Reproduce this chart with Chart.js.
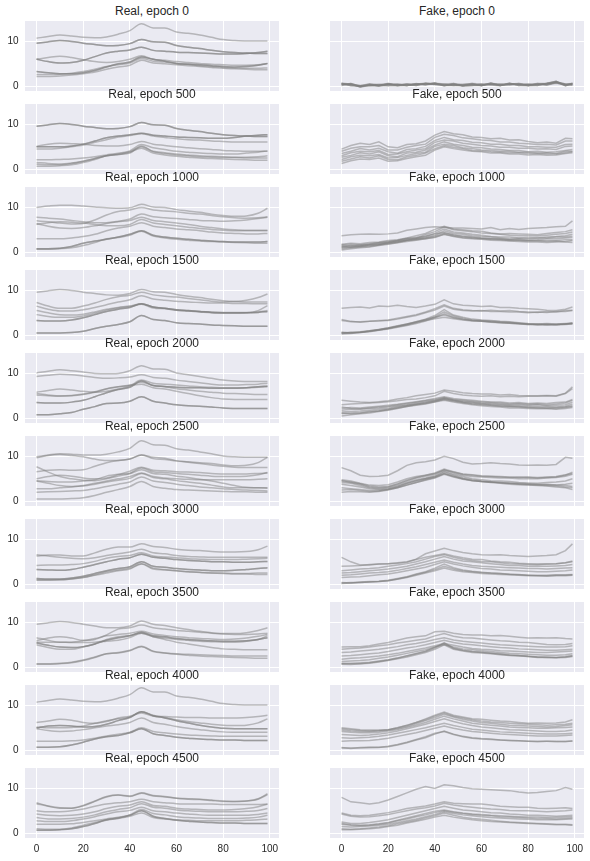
<!DOCTYPE html>
<html><head><meta charset="utf-8">
<script src="https://cdn.jsdelivr.net/npm/chart.js@4.4.0/dist/chart.umd.min.js"></script>
<style>
body{margin:0;background:#fff;width:590px;height:861px;position:relative;overflow:hidden;font-family:"Liberation Sans",Arial,sans-serif}
.t{position:absolute;width:254px;text-align:center;font-size:12px;line-height:14px;color:#262626;white-space:nowrap}
</style></head><body>
<script>
const epochs = [0,500,1000,1500,2000,2500,3000,3500,4000,4500];
const realX = [0,5,10,15,20,25,30,35,40,45,50,55,60,65,70,75,80,85,90,95,99];
const fakeX = [0,4,8,12,16,20,24,28,32,36,40,44,48,52,56,60,64,68,72,76,80,84,88,92,96,99];
const xTicks = [0,20,40,60,80,100];
const yTicks = [0,10];

// ---- Real samples (values at realX) ----
const real0 = [
 [10.7,11.1,11.4,11.2,10.9,10.8,11.0,11.6,12.4,13.9,13.0,13.0,12.1,11.8,11.4,10.9,10.4,10.2,10.1,10.1,10.1],
 [9.6,9.9,10.2,10.0,9.6,9.3,9.0,9.1,9.5,10.4,9.9,9.8,9.1,8.7,8.4,8.0,7.7,7.5,7.4,7.3,7.3],
 [9.6,9.9,10.2,10.0,9.6,9.3,9.0,9.1,9.5,10.4,9.9,9.8,9.1,8.7,8.4,8.0,7.7,7.5,7.4,7.3,7.3],
 [6.0,5.5,5.2,5.3,5.8,6.6,7.4,7.8,8.1,8.7,8.0,7.8,7.6,7.5,7.4,7.3,7.2,7.2,7.3,7.5,7.8],
 [6.0,5.5,5.2,5.3,5.8,6.6,7.4,7.8,8.1,8.7,8.0,7.8,7.6,7.5,7.4,7.3,7.2,7.2,7.3,7.5,7.8],
 [6.0,6.4,6.7,6.4,5.9,5.5,5.3,5.5,6.0,6.8,6.0,5.8,5.5,5.3,5.1,4.9,4.8,4.7,4.7,4.8,5.0],
 [3.3,3.0,2.8,2.8,3.0,3.5,4.3,5.0,5.4,6.5,6.0,5.6,5.1,4.9,4.8,4.6,4.4,4.3,4.4,4.7,5.1],
 [3.3,3.0,2.8,2.8,3.0,3.5,4.3,5.0,5.4,6.5,6.0,5.6,5.1,4.9,4.8,4.6,4.4,4.3,4.4,4.7,5.1],
 [2.2,2.2,2.3,2.5,2.8,3.2,3.8,4.3,4.7,5.8,5.2,5.0,4.8,4.6,4.4,4.2,4.0,3.9,3.8,3.7,3.7],
 [2.6,2.6,2.7,2.9,3.3,3.8,4.4,4.8,5.2,6.2,5.6,5.4,5.1,4.9,4.6,4.4,4.2,4.1,4.0,4.0,4.1]
];
const real1 = [
 [9.6,9.9,10.2,10.0,9.6,9.3,9.0,9.1,9.5,10.4,9.9,9.8,9.1,8.7,8.4,8.0,7.7,7.5,7.4,7.3,7.3],
 [9.6,9.9,10.2,10.0,9.6,9.3,9.0,9.1,9.5,10.4,9.9,9.8,9.1,8.7,8.4,8.0,7.7,7.5,7.4,7.3,7.3],
 [5.0,5.0,5.0,5.2,5.6,6.3,7.0,7.4,7.7,8.0,7.6,7.4,7.2,7.1,7.0,6.9,6.9,7.1,7.4,7.6,7.7],
 [5.0,5.0,5.0,5.2,5.6,6.3,7.0,7.4,7.7,8.0,7.6,7.4,7.2,7.1,7.0,6.9,6.9,7.1,7.4,7.6,7.7],
 [4.5,4.5,4.7,5.0,5.4,6.0,6.6,7.2,7.5,7.9,7.4,7.1,6.8,6.6,6.5,6.3,6.2,6.1,6.1,6.1,6.1],
 [5.1,5.6,5.8,5.7,5.6,5.3,5.2,5.2,5.5,6.2,5.6,5.3,5.0,4.8,4.6,4.4,4.2,4.1,4.0,4.0,4.0],
 [2.1,2.1,2.2,2.3,2.5,2.8,3.2,3.6,4.1,5.5,4.8,4.4,4.0,3.8,3.6,3.5,3.4,3.4,3.6,3.8,4.1],
 [1.5,1.3,1.2,1.4,1.8,2.4,3.0,3.3,3.6,5.2,4.0,3.7,3.4,3.2,3.0,2.9,2.8,2.7,2.7,2.8,3.0],
 [0.7,0.7,0.8,1.0,1.5,2.2,3.0,3.3,3.8,4.7,3.6,3.2,2.9,2.7,2.5,2.4,2.3,2.2,2.1,2.0,2.0],
 [1.1,1.0,1.0,1.3,1.8,2.4,3.0,3.4,3.9,5.0,3.9,3.5,3.2,3.0,2.8,2.7,2.6,2.6,2.5,2.5,2.5]
];
const real2 = [
 [10.0,10.3,10.5,10.5,10.3,10.1,9.9,9.8,9.9,10.7,10.1,10.0,9.5,9.2,8.9,8.5,8.2,8.0,8.1,8.7,9.8],
 [7.0,6.8,6.5,6.3,6.4,7.2,8.3,9.1,9.4,10.0,9.4,9.2,9.0,8.7,8.5,8.2,7.9,7.7,7.6,7.7,7.9],
 [7.8,7.6,7.4,7.1,6.8,6.6,6.6,6.9,7.4,8.5,7.9,7.7,7.5,7.3,7.1,7.0,6.9,7.0,7.2,7.5,7.8],
 [6.4,5.8,5.4,5.3,5.5,5.9,6.4,6.8,7.1,7.8,7.1,6.8,6.5,6.2,5.8,5.5,5.2,5.0,4.9,4.9,4.9],
 [6.2,6.6,6.8,6.7,6.5,6.2,5.9,5.9,6.2,7.3,6.5,6.2,5.9,5.6,5.3,5.1,4.9,4.8,4.8,4.8,4.8],
 [3.0,3.0,3.0,3.2,3.5,4.0,4.8,5.4,5.8,6.6,5.8,5.5,5.2,5.0,4.8,4.5,4.3,4.2,4.1,4.1,4.2],
 [0.7,0.7,0.8,1.0,1.5,2.2,3.0,3.3,3.8,4.7,3.6,3.2,2.9,2.7,2.5,2.4,2.3,2.2,2.1,2.0,2.0],
 [0.8,0.8,0.9,1.3,2.0,2.5,2.9,3.4,4.0,4.8,3.8,3.4,3.1,2.9,2.7,2.5,2.4,2.3,2.3,2.3,2.4],
 [0.8,0.8,0.9,1.3,2.0,2.5,2.9,3.4,4.0,4.8,3.8,3.4,3.1,2.9,2.7,2.5,2.4,2.3,2.3,2.3,2.4]
];
const real3 = [
 [9.6,9.9,10.2,10.0,9.6,9.3,9.0,8.9,9.3,10.2,9.7,9.6,9.1,8.7,8.4,8.0,7.7,7.5,7.4,7.4,7.4],
 [7.3,6.5,6.0,6.0,6.5,7.2,8.0,8.6,8.9,9.6,9.0,8.7,8.5,8.2,7.9,7.6,7.4,7.5,7.8,8.4,9.2],
 [6.5,5.8,5.4,5.4,5.7,6.2,6.8,7.4,7.9,8.8,8.1,7.8,7.6,7.4,7.3,7.2,7.2,7.1,7.1,7.0,7.0],
 [5.5,5.0,4.6,4.5,4.7,5.2,5.8,6.2,6.5,7.0,6.3,6.0,5.6,5.4,5.2,5.0,4.9,4.9,5.0,5.5,6.6],
 [4.6,4.2,4.0,4.0,4.3,4.9,5.6,6.1,6.4,6.9,6.1,5.9,5.6,5.4,5.3,5.2,5.1,5.1,5.1,5.2,5.5],
 [3.3,3.2,3.2,3.4,3.9,4.6,5.3,5.8,6.2,7.0,6.3,6.0,5.7,5.5,5.3,5.1,5.0,5.0,5.0,5.1,5.3],
 [3.3,3.2,3.2,3.4,3.9,4.6,5.3,5.8,6.2,7.0,6.3,6.0,5.7,5.5,5.3,5.1,5.0,5.0,5.0,5.1,5.3],
 [0.5,0.5,0.5,0.6,0.9,1.5,2.0,2.4,3.0,4.4,3.5,3.3,2.8,2.6,2.5,2.3,2.2,2.1,2.0,2.0,2.0],
 [0.5,0.5,0.5,0.6,0.9,1.5,2.0,2.4,3.0,4.4,3.5,3.3,2.8,2.6,2.5,2.3,2.2,2.1,2.0,2.0,2.0]
];
const real4 = [
 [10.1,10.5,10.8,10.6,10.3,10.0,9.9,10.0,10.6,11.7,11.0,10.9,10.1,9.7,9.3,8.9,8.5,8.3,8.2,8.2,8.2],
 [9.3,9.6,9.8,9.7,9.4,9.1,8.9,9.0,9.2,9.7,9.1,8.9,8.5,8.2,7.9,7.6,7.4,7.4,7.5,7.6,7.8],
 [5.8,6.2,6.5,6.3,6.0,5.8,6.0,6.5,7.2,8.5,7.8,7.6,7.4,7.2,7.0,6.9,6.8,6.8,6.8,6.9,7.0],
 [5.2,5.0,4.9,5.0,5.3,5.8,6.5,7.0,7.4,8.0,7.3,7.0,6.6,6.3,6.0,5.8,5.6,5.5,5.4,5.3,5.3],
 [5.5,5.2,5.0,5.1,5.4,5.9,6.6,7.0,7.3,7.6,6.8,6.5,6.0,5.5,5.0,4.6,4.3,4.2,4.2,4.2,4.2],
 [3.5,3.4,3.4,3.6,4.0,4.8,5.7,6.4,6.9,8.3,7.3,7.1,6.9,6.8,6.8,6.7,6.7,6.7,6.8,7.0,7.2],
 [3.5,3.4,3.4,3.6,4.0,4.8,5.7,6.4,6.9,8.3,7.3,7.1,6.9,6.8,6.8,6.7,6.7,6.7,6.8,7.0,7.2],
 [0.8,0.8,1.0,1.3,2.0,2.6,3.3,3.4,3.8,4.8,3.8,3.4,3.0,2.8,2.7,2.5,2.3,2.2,2.2,2.2,2.2],
 [0.8,0.8,1.0,1.3,2.0,2.6,3.3,3.4,3.8,4.8,3.8,3.4,3.0,2.8,2.7,2.5,2.3,2.2,2.2,2.2,2.2]
];
const real5 = [
 [9.9,10.3,10.6,10.5,10.3,10.3,10.5,11.0,11.8,13.5,12.6,12.5,11.7,11.4,11.0,10.6,10.1,9.9,9.8,9.8,9.8],
 [9.7,10.2,10.4,10.2,9.9,9.4,9.1,9.1,9.4,10.3,9.8,9.6,9.0,8.7,8.4,8.1,7.8,7.6,7.5,7.5,7.5],
 [6.6,6.9,7.0,6.9,7.0,7.8,8.6,9.1,9.4,10.3,9.5,9.3,9.0,8.8,8.6,8.4,8.1,7.9,8.0,8.6,9.8],
 [7.7,6.5,5.5,5.0,4.7,4.6,5.0,5.6,6.2,7.4,6.6,6.4,6.2,6.0,5.8,5.6,5.5,5.5,5.6,5.9,6.4],
 [5.0,5.5,5.8,5.6,5.2,5.0,5.2,5.9,6.7,7.6,6.9,6.8,6.6,6.5,6.4,6.2,6.1,6.1,6.1,6.2,6.3],
 [4.5,4.0,3.5,3.3,3.4,3.8,4.3,4.7,5.1,6.2,5.3,5.0,4.6,4.3,4.0,3.6,3.2,3.0,3.0,3.0,3.0],
 [4.6,4.4,4.3,4.3,4.5,4.8,5.6,6.0,6.2,7.0,6.2,6.0,5.6,5.3,4.9,4.5,4.0,3.5,3.1,3.0,2.9],
 [2.8,2.8,3.0,3.2,3.5,4.0,4.5,5.0,5.5,6.3,5.5,5.2,5.0,4.9,4.8,4.8,4.8,4.8,4.8,4.9,5.0],
 [2.0,2.1,2.2,2.3,2.4,2.8,3.3,3.8,4.3,5.4,4.5,4.2,3.8,3.5,3.2,3.0,2.8,2.6,2.5,2.4,2.3],
 [0.5,0.5,0.5,0.6,0.8,1.3,2.0,2.6,3.3,4.4,3.3,2.9,2.6,2.5,2.4,2.3,2.2,2.1,2.1,2.0,2.0]
];
const real6 = [
 [6.3,6.5,6.5,6.3,6.3,7.0,7.8,8.3,8.3,9.0,8.4,8.2,7.8,7.6,7.5,7.3,7.2,7.2,7.3,7.7,8.5],
 [6.6,6.3,6.0,5.8,5.7,5.9,6.4,6.8,7.2,7.8,7.0,6.8,6.4,6.2,6.1,6.0,6.0,6.0,6.0,6.0,6.0],
 [4.2,4.3,4.3,4.4,4.6,5.1,5.8,6.2,6.4,7.0,6.3,6.1,5.9,5.7,5.6,5.5,5.5,5.5,5.6,5.7,5.8],
 [3.3,3.2,3.1,3.3,3.8,4.4,5.0,5.6,5.9,6.7,6.0,5.8,5.5,5.3,5.2,5.0,5.0,4.9,4.9,5.0,5.1],
 [3.3,3.2,3.1,3.3,3.8,4.4,5.0,5.6,5.9,6.7,6.0,5.8,5.5,5.3,5.2,5.0,5.0,4.9,4.9,5.0,5.1],
 [1.3,1.2,1.2,1.4,1.8,2.4,3.0,3.5,3.9,5.0,4.0,3.8,3.5,3.3,3.2,3.0,3.0,3.1,3.3,3.5,3.7],
 [1.3,1.2,1.2,1.4,1.8,2.4,3.0,3.5,3.9,5.0,4.0,3.8,3.5,3.3,3.2,3.0,3.0,3.1,3.3,3.5,3.7],
 [1.0,1.0,1.0,1.2,1.5,2.0,2.5,3.0,3.4,4.5,3.4,3.2,3.0,2.8,2.7,2.5,2.5,2.4,2.4,2.5,2.5],
 [0.9,0.9,1.0,1.2,1.5,2.1,2.8,3.2,3.6,4.6,3.6,3.3,3.0,2.8,2.6,2.5,2.4,2.3,2.3,2.2,2.2]
];
const real7 = [
 [9.6,9.9,10.2,10.0,9.6,9.2,8.8,8.8,9.2,10.3,9.6,9.3,8.8,8.4,8.0,7.7,7.4,7.3,7.3,7.4,7.6],
 [5.9,6.5,6.8,6.5,6.0,6.2,7.2,8.5,8.8,9.4,8.8,8.5,8.2,8.0,7.8,7.6,7.5,7.5,7.7,8.2,8.8],
 [6.6,6.0,5.6,5.6,5.9,6.4,7.0,7.3,7.6,8.0,7.4,7.1,6.8,6.6,6.4,6.3,6.2,6.3,6.5,6.9,7.3],
 [5.4,4.9,4.5,4.4,4.6,5.2,6.0,6.6,7.0,7.8,7.0,6.8,6.4,6.2,6.0,5.9,5.8,5.8,5.9,6.2,6.6],
 [5.4,4.9,4.5,4.4,4.6,5.2,6.0,6.6,7.0,7.8,7.0,6.8,6.4,6.2,6.0,5.9,5.8,5.8,5.9,6.2,6.6],
 [5.0,4.4,4.0,4.0,4.5,5.2,6.2,6.8,7.1,7.6,6.8,6.5,6.2,6.0,5.8,5.7,5.6,5.6,5.8,6.2,7.0],
 [5.6,5.6,5.6,5.5,5.5,5.6,5.8,6.0,6.6,7.6,6.8,6.2,5.6,5.2,4.8,4.4,4.1,4.0,3.9,3.9,3.9],
 [0.7,0.7,0.8,1.0,1.5,2.2,3.0,3.3,3.8,4.7,3.6,3.2,2.9,2.7,2.5,2.4,2.3,2.2,2.1,2.0,2.0],
 [0.8,0.8,0.9,1.1,1.6,2.3,3.0,3.2,3.7,4.6,3.5,3.2,3.0,2.9,2.8,2.7,2.6,2.5,2.5,2.5,2.5]
];
const real8 = [
 [10.7,11.1,11.4,11.2,10.9,10.8,11.0,11.6,12.4,13.9,13.0,13.0,12.1,11.8,11.4,10.9,10.4,10.2,10.1,10.1,10.1],
 [6.2,6.5,6.9,6.7,6.2,6.0,6.4,7.2,7.6,8.3,7.6,7.5,7.4,7.3,7.3,7.2,7.2,7.2,7.3,7.5,7.8],
 [5.2,5.0,5.0,5.1,5.4,6.0,6.6,7.0,7.4,8.6,7.8,7.3,6.8,6.4,6.1,5.8,5.6,5.5,5.6,6.1,7.0],
 [5.0,5.4,5.5,5.4,5.2,5.3,5.8,6.6,7.3,8.6,7.7,7.2,6.6,6.1,5.6,5.2,4.9,4.8,4.8,4.8,4.8],
 [5.0,5.4,5.5,5.4,5.2,5.3,5.8,6.6,7.3,8.6,7.7,7.2,6.6,6.1,5.6,5.2,4.9,4.8,4.8,4.8,4.8],
 [4.8,4.4,4.2,4.3,4.6,5.0,5.4,5.7,6.2,7.2,6.2,5.8,5.3,4.9,4.6,4.3,4.1,4.0,4.0,4.0,4.0],
 [2.0,2.0,2.0,2.1,2.3,2.7,3.2,3.6,4.0,5.0,4.2,3.9,3.6,3.4,3.3,3.2,3.1,3.1,3.1,3.1,3.1],
 [0.7,0.7,0.8,1.2,1.8,2.5,3.0,3.3,3.9,4.8,3.7,3.3,2.9,2.7,2.5,2.4,2.3,2.3,2.2,2.2,2.2],
 [0.7,0.7,0.8,1.2,1.8,2.5,3.0,3.3,3.9,4.8,3.7,3.3,2.9,2.7,2.5,2.4,2.3,2.3,2.2,2.2,2.2]
];
const real9 = [
 [6.8,6.1,5.7,5.6,6.2,7.2,8.2,8.5,8.3,9.0,8.4,8.2,7.8,7.7,7.6,7.4,7.2,7.1,7.2,7.7,8.8],
 [6.6,6.0,5.6,5.6,6.1,7.1,8.1,8.5,8.2,8.9,8.3,8.1,7.8,7.6,7.5,7.3,7.1,7.1,7.2,7.6,8.6],
 [5.0,4.8,4.8,5.0,5.4,6.0,6.5,6.8,7.0,7.6,7.0,6.8,6.6,6.5,6.5,6.5,6.4,6.4,6.4,6.4,6.5],
 [4.3,4.0,3.9,4.0,4.3,4.8,5.5,6.0,6.3,7.0,6.2,6.0,5.6,5.4,5.3,5.2,5.2,5.3,5.5,5.9,6.5],
 [3.5,3.2,3.2,3.3,3.6,4.1,4.8,5.3,5.7,6.6,5.8,5.6,5.2,5.0,4.9,4.8,4.8,4.8,4.9,5.1,5.5],
 [2.8,2.6,2.6,2.8,3.2,3.7,4.3,4.8,5.1,5.8,5.0,4.8,4.5,4.3,4.1,4.0,4.0,4.0,4.0,4.2,4.5],
 [2.0,2.0,2.0,2.1,2.4,2.8,3.2,3.6,4.1,5.3,4.4,4.1,3.7,3.5,3.4,3.3,3.3,3.3,3.4,3.6,4.0],
 [0.7,0.7,0.8,1.0,1.5,2.2,3.0,3.4,4.0,5.0,3.8,3.3,2.9,2.7,2.5,2.4,2.3,2.3,2.2,2.2,2.2],
 [0.7,0.7,0.8,1.0,1.5,2.2,3.0,3.4,4.0,5.0,3.8,3.3,2.9,2.7,2.5,2.4,2.3,2.3,2.2,2.2,2.2],
 [1.0,0.9,0.9,1.2,1.8,2.4,2.9,3.3,3.8,4.5,3.5,3.2,3.0,2.9,2.8,2.8,2.8,2.8,2.9,3.0,3.2]
];

// ---- Fake samples (values at fakeX) ----
const fake0 = [
 [0.7,0.2,0.0,0.5,0.1,0.6,0.1,0.5,0.2,0.7,0.4,0.5,0.2,0.4,0.6,0.1,0.7,0.2,0.5,0.6,0.1,0.6,0.3,0.9,0.5,0.3],
 [0.3,0.6,-0.2,0.2,0.4,0.2,0.5,0.1,0.6,0.3,0.8,0.1,0.6,0.0,0.2,0.5,0.3,0.1,0.7,0.2,0.5,0.2,0.7,1.1,0.1,0.7],
 [0.6,0.1,0.1,0.1,0.0,0.5,0.2,0.4,0.2,0.6,0.4,0.2,0.2,0.1,0.5,0.2,0.6,0.5,0.4,0.5,0.2,0.5,0.3,0.7,0.4,0.3],
 [0.7,0.5,0.2,0.5,0.4,0.6,0.4,0.5,0.5,0.4,0.7,0.5,0.6,0.4,0.6,0.5,0.4,0.4,0.3,0.6,0.4,0.6,0.6,1.0,0.5,0.6],
 [0.2,0.5,-0.1,0.4,0.1,0.2,0.1,0.2,0.5,0.7,0.5,0.1,0.5,0.1,0.2,0.2,0.7,0.2,0.6,0.2,0.1,0.2,0.6,1.1,0.2,0.6],
 [0.5,0.3,0.1,0.3,0.2,0.4,0.4,0.2,0.5,0.4,0.5,0.3,0.4,0.2,0.4,0.2,0.4,0.4,0.6,0.4,0.3,0.4,0.5,0.8,0.2,0.4],
 [0.4,0.6,0.0,0.2,0.3,0.4,0.3,0.3,0.3,0.5,0.6,0.3,0.3,0.3,0.4,0.3,0.5,0.2,0.5,0.4,0.4,0.4,0.4,0.9,0.3,0.6],
 [0.5,0.4,-0.1,0.3,0.2,0.5,0.3,0.4,0.4,0.6,0.7,0.3,0.4,0.2,0.4,0.3,0.5,0.3,0.4,0.4,0.3,0.4,0.6,0.9,0.4,0.5]
];
const fake1 = [
 [4.5,5.3,5.8,5.5,6.1,5.0,4.8,5.5,5.7,6.3,7.6,8.4,7.9,7.7,7.2,7.1,6.8,6.9,6.5,6.6,6.2,5.9,6.1,5.8,6.9,6.8],
 [4.0,4.7,5.0,5.0,5.3,4.3,4.3,4.9,5.3,5.6,7.1,7.8,7.5,7.0,6.8,6.5,6.4,6.1,6.1,5.8,5.7,5.5,5.6,5.4,6.3,6.3],
 [3.5,4.0,4.6,4.3,4.7,3.9,3.6,4.4,4.6,5.1,6.4,7.1,6.6,6.4,6.0,5.9,5.6,5.6,5.3,5.3,5.0,5.0,4.9,4.9,5.5,5.6],
 [3.0,3.7,4.0,3.9,4.2,3.3,3.4,3.9,4.3,4.6,6.0,6.5,6.3,5.8,5.6,5.3,5.2,4.9,4.9,4.7,4.7,4.5,4.6,4.4,5.1,5.2],
 [2.7,3.1,3.7,3.4,3.9,3.0,2.8,3.6,3.8,4.3,5.4,6.1,5.6,5.3,4.9,4.8,4.5,4.4,4.2,4.2,3.9,4.0,3.8,3.9,4.2,4.4],
 [2.2,2.8,3.1,3.0,3.3,2.5,2.6,3.1,3.5,3.8,5.1,5.6,5.3,4.8,4.6,4.3,4.2,4.0,4.0,3.8,3.8,3.6,3.7,3.5,4.0,4.0],
 [1.8,2.3,2.8,2.5,3.0,2.2,2.1,2.8,3.1,3.6,4.6,5.3,4.9,4.6,4.2,4.1,3.9,3.8,3.7,3.7,3.5,3.5,3.4,3.4,3.7,3.9],
 [1.3,1.9,2.3,2.2,2.5,1.8,1.9,2.4,2.8,3.1,4.3,5.0,4.6,4.3,4.0,3.9,3.6,3.6,3.4,3.4,3.2,3.3,3.1,3.2,3.5,3.7]
];
const fake2 = [
 [3.7,3.9,4.0,4.1,4.0,4.1,4.3,4.9,5.2,5.5,5.7,5.6,5.4,5.4,5.3,5.2,5.5,5.0,5.3,5.1,5.3,5.4,5.5,5.7,5.8,7.0],
 [1.8,2.0,1.9,2.2,2.3,2.6,2.8,3.2,3.7,4.2,5.1,5.8,5.2,5.0,4.8,4.7,4.3,4.1,4.2,4.1,4.0,3.9,4.2,4.4,4.6,5.0],
 [1.5,1.4,1.7,1.8,2.1,2.4,2.7,3.1,3.2,3.9,4.6,5.6,5.0,4.8,4.6,4.3,4.2,4.0,3.8,3.7,3.7,3.6,3.8,4.0,4.2,4.5],
 [1.2,1.5,1.4,1.7,1.9,2.1,2.5,2.8,3.1,3.5,4.2,5.2,4.5,4.3,4.0,3.8,3.5,3.4,3.4,3.2,3.3,3.2,3.4,3.5,3.7,4.0],
 [1.0,1.2,1.3,1.5,1.8,2.0,2.3,2.7,2.9,3.3,3.8,4.8,4.2,4.0,3.7,3.5,3.4,3.2,3.0,3.1,3.0,3.2,3.2,3.4,3.4,3.6],
 [1.3,1.1,1.4,1.6,1.7,2.2,2.4,2.7,3.0,3.2,3.6,4.3,3.9,3.6,3.4,3.2,3.0,3.0,2.8,2.9,2.7,2.8,3.0,3.0,3.2,3.3],
 [0.8,1.0,1.2,1.3,1.6,1.9,2.2,2.6,2.8,3.0,3.3,4.0,3.6,3.3,3.1,3.0,2.9,2.8,2.6,2.6,2.5,2.5,2.6,2.6,2.8,2.8],
 [1.6,1.8,1.6,1.9,2.1,2.3,2.6,3.0,3.3,3.6,4.1,4.4,3.8,3.5,3.3,3.1,3.0,2.9,2.8,2.7,2.6,2.6,2.4,2.5,2.3,2.2],
 [0.5,0.8,1.0,1.2,1.5,1.8,2.1,2.4,2.7,3.0,3.4,4.0,3.5,3.2,3.0,2.9,2.7,2.6,2.5,2.4,2.3,2.3,2.2,2.3,2.4,2.6]
];
const fake3 = [
 [6.0,6.2,6.3,6.1,6.5,6.4,6.7,6.4,6.2,6.5,6.9,7.9,7.0,6.7,6.6,6.4,6.5,6.2,6.2,6.0,5.9,5.8,5.6,5.5,5.8,6.3],
 [3.5,3.1,2.9,3.1,3.2,3.4,3.8,4.2,4.6,5.2,5.9,6.8,6.0,5.7,5.5,5.4,5.6,5.4,5.5,5.3,5.2,5.1,5.3,5.2,5.5,5.6],
 [3.3,3.0,3.0,3.1,3.3,3.3,3.6,4.0,4.4,5.0,5.6,6.5,5.8,5.5,5.4,5.5,5.3,5.3,5.2,5.2,5.0,5.2,5.1,5.3,5.3,5.5],
 [0.6,0.5,0.8,1.0,1.3,1.6,2.0,2.4,3.0,3.6,4.4,5.7,4.5,4.0,3.6,3.4,3.3,3.1,3.0,2.8,2.6,2.5,2.6,2.5,2.6,2.7],
 [0.4,0.6,0.7,0.9,1.2,1.5,1.9,2.3,2.8,3.4,4.1,5.2,4.3,3.8,3.4,3.3,3.2,3.0,2.9,2.7,2.5,2.4,2.5,2.4,2.5,2.6],
 [0.7,0.5,0.6,0.8,1.1,1.4,1.8,2.2,2.6,3.2,3.9,4.8,4.0,3.6,3.3,3.2,3.0,2.9,2.8,2.6,2.4,2.5,2.4,2.4,2.5,2.8],
 [0.3,0.4,0.6,0.9,1.2,1.5,2.0,2.5,3.0,3.5,4.0,4.5,3.9,3.5,3.3,3.1,3.0,2.8,2.7,2.6,2.5,2.3,2.4,2.3,2.4,2.5],
 [0.5,0.7,0.7,1.0,1.3,1.7,2.1,2.5,2.9,3.3,3.7,4.0,3.7,3.4,3.2,3.1,2.9,2.8,2.7,2.5,2.4,2.4,2.3,2.4,2.5,2.6]
];
const fake4 = [
 [4.0,3.8,3.6,3.5,3.7,3.9,4.3,4.6,5.0,5.3,5.6,6.3,6.0,5.7,5.5,5.4,5.4,5.2,5.3,5.1,5.0,5.0,5.1,5.0,5.6,7.0],
 [3.0,3.2,3.3,3.4,3.5,3.7,3.9,4.2,4.3,4.6,5.0,6.0,5.5,5.2,5.0,4.9,5.0,4.8,4.9,4.8,4.9,4.9,5.0,4.9,5.5,6.6],
 [2.5,2.2,2.1,2.3,2.5,2.7,3.0,3.3,3.6,3.9,4.2,4.6,4.2,4.0,3.8,3.6,3.5,3.4,3.2,3.3,3.1,3.2,3.0,3.2,3.4,4.0],
 [1.8,2.0,2.0,2.2,2.3,2.5,2.8,3.0,3.4,3.7,4.0,4.4,4.0,3.8,3.6,3.4,3.3,3.2,3.0,3.1,2.9,3.0,2.8,2.9,3.0,3.6],
 [1.4,1.5,1.6,1.8,2.0,2.2,2.6,2.9,3.2,3.5,3.9,4.5,4.1,3.7,3.5,3.3,3.1,3.0,2.8,2.8,2.7,2.6,2.6,2.5,2.7,3.2],
 [1.0,1.2,1.3,1.5,1.7,2.0,2.4,2.8,3.1,3.4,3.8,4.2,3.8,3.5,3.2,3.0,2.9,2.7,2.6,2.5,2.4,2.3,2.3,2.4,2.5,2.8],
 [0.5,0.8,1.0,1.2,1.5,1.8,2.2,2.6,2.9,3.2,3.6,4.0,3.6,3.3,3.0,2.8,2.6,2.5,2.3,2.3,2.2,2.1,2.1,2.0,2.2,2.4],
 [1.2,1.0,1.1,1.4,1.6,1.9,2.3,2.6,3.0,3.3,3.7,4.3,3.9,3.5,3.3,3.1,2.9,2.8,2.6,2.6,2.4,2.4,2.3,2.2,2.4,2.6],
 [2.2,2.4,2.3,2.5,2.7,2.9,3.1,3.4,3.7,4.0,4.4,4.8,4.4,4.2,4.0,3.8,3.6,3.6,3.4,3.5,3.3,3.4,3.3,3.5,3.6,4.2]
];
const fake5 = [
 [7.5,6.8,5.8,5.5,5.6,5.8,6.8,8.0,8.6,8.8,9.2,10.0,9.5,8.7,8.3,8.4,8.6,8.4,8.3,8.1,8.0,8.1,8.0,8.2,9.8,9.6],
 [4.8,4.5,4.0,3.6,3.5,3.7,4.3,5.0,5.5,5.8,6.2,6.9,6.5,6.0,5.8,5.6,5.5,5.4,5.3,5.4,5.3,5.2,5.3,5.4,5.8,6.5],
 [4.5,4.2,3.8,3.2,3.0,3.2,3.8,4.5,5.2,5.6,6.0,7.0,6.3,5.8,5.5,5.4,5.3,5.2,5.2,5.0,5.1,5.0,5.2,5.3,5.6,6.0],
 [4.2,4.0,3.5,3.0,2.8,3.0,3.5,4.2,4.8,5.2,5.7,6.7,6.0,5.5,5.0,4.8,4.6,4.5,4.4,4.2,4.1,4.0,4.2,4.3,4.5,5.0],
 [3.8,3.5,3.2,2.8,2.6,2.8,3.3,4.0,4.6,5.0,5.4,6.2,5.6,5.0,4.6,4.4,4.3,4.2,4.0,3.9,3.8,3.7,3.8,3.6,3.5,3.3],
 [3.0,2.8,2.6,2.4,2.4,2.7,3.2,3.9,4.5,5.0,5.5,6.5,5.8,5.2,4.8,4.5,4.3,4.1,4.0,3.8,3.7,3.6,3.5,3.4,3.2,3.0],
 [2.5,2.6,2.4,2.2,2.3,2.6,3.0,3.6,4.2,4.8,5.3,6.2,5.5,5.0,4.6,4.4,4.2,4.0,3.8,3.7,3.6,3.5,3.4,3.2,3.0,2.6],
 [2.0,2.2,2.1,2.0,2.2,2.5,3.0,3.6,4.2,4.7,5.2,6.0,5.4,4.9,4.6,4.4,4.3,4.2,4.0,4.0,3.9,3.8,3.7,3.6,3.8,4.0],
 [4.6,4.3,3.9,3.4,3.2,3.3,3.9,4.7,5.3,5.8,6.3,7.2,6.6,6.1,5.9,5.7,5.6,5.5,5.4,5.3,5.4,5.3,5.4,5.5,5.9,6.2]
];
const fake6 = [
 [6.0,5.0,4.3,4.3,4.5,4.6,4.7,4.9,5.6,6.8,7.4,8.0,7.5,7.1,6.8,6.6,6.5,6.6,6.4,6.3,6.2,6.3,6.4,6.6,7.5,9.0],
 [4.0,4.1,4.2,4.4,4.5,4.6,4.8,5.0,5.5,6.0,6.4,6.8,6.3,5.9,5.6,5.5,5.2,5.0,4.9,4.7,4.6,4.5,4.5,4.6,4.8,5.2],
 [3.0,3.2,3.4,3.5,3.7,4.0,4.3,4.6,5.0,5.6,6.2,6.6,6.0,5.6,5.3,5.1,5.0,4.8,4.6,4.5,4.4,4.4,4.5,4.6,4.8,5.0],
 [2.5,2.6,2.8,3.0,3.2,3.4,3.7,4.0,4.5,5.0,5.6,6.2,5.6,5.2,5.0,4.8,4.6,4.4,4.2,4.2,4.0,4.1,4.0,4.1,4.2,4.4],
 [2.0,2.1,2.3,2.5,2.6,2.8,3.1,3.5,3.9,4.4,4.9,5.4,4.9,4.5,4.2,4.0,3.9,3.8,3.7,3.6,3.5,3.5,3.4,3.5,3.6,3.7],
 [1.5,1.6,1.7,1.9,2.1,2.3,2.6,3.0,3.4,3.8,4.4,5.0,4.5,4.1,3.8,3.5,3.4,3.2,3.1,3.0,2.9,2.8,2.8,2.9,3.0,3.2],
 [0.3,0.4,0.4,0.5,0.6,0.8,1.2,1.6,2.2,2.7,3.3,4.0,3.4,3.0,2.8,2.6,2.5,2.4,2.3,2.2,2.0,2.0,2.0,2.1,2.1,2.2],
 [0.4,0.3,0.5,0.6,0.7,0.9,1.3,1.7,2.3,2.8,3.6,4.5,3.7,3.2,2.9,2.7,2.5,2.4,2.2,2.1,2.0,1.9,1.9,2.0,2.0,2.1],
 [0.2,0.3,0.4,0.5,0.6,0.8,1.1,1.5,2.0,2.5,3.0,3.6,3.1,2.8,2.6,2.4,2.3,2.2,2.1,2.0,1.9,1.9,1.8,1.9,1.9,2.0]
];
const fake7 = [
 [4.5,4.6,4.6,4.8,5.2,5.5,6.0,6.5,6.8,7.0,7.9,8.0,7.6,7.3,7.2,7.2,7.0,7.1,6.9,6.7,6.5,6.6,6.5,6.6,6.4,6.3],
 [4.0,4.2,4.3,4.5,4.8,5.0,5.4,5.7,6.0,6.3,7.0,7.5,6.9,6.6,6.5,6.3,6.1,5.9,5.8,5.6,5.5,5.3,5.1,5.0,5.1,5.3],
 [3.3,3.4,3.6,3.8,4.0,4.3,4.6,5.0,5.3,5.7,6.2,6.6,6.1,5.8,5.6,5.4,5.2,5.0,4.9,4.8,4.7,4.6,4.5,4.5,4.6,4.8],
 [2.5,2.6,2.8,3.0,3.2,3.5,3.9,4.3,4.6,5.0,5.5,6.0,5.5,5.2,5.0,4.8,4.6,4.4,4.3,4.1,4.0,3.9,3.8,3.8,3.9,4.0],
 [1.8,2.0,2.1,2.3,2.5,2.8,3.1,3.5,3.9,4.3,4.8,5.3,4.9,4.5,4.2,4.0,3.9,3.7,3.6,3.5,3.4,3.3,3.3,3.4,3.5,3.6],
 [0.8,0.8,0.8,1.0,1.3,1.6,2.0,2.5,3.0,3.5,4.3,5.5,4.3,3.8,3.5,3.4,3.2,3.0,2.8,2.6,2.5,2.3,2.2,2.2,2.3,2.5],
 [0.7,0.6,0.8,0.9,1.2,1.5,1.9,2.3,2.8,3.3,4.0,5.0,4.0,3.6,3.3,3.2,3.0,2.8,2.6,2.5,2.4,2.2,2.2,2.1,2.2,2.4],
 [0.9,0.9,1.0,1.1,1.4,1.7,2.1,2.6,3.1,3.6,4.5,5.3,4.2,3.8,3.5,3.3,3.1,2.9,2.7,2.6,2.4,2.3,2.3,2.2,2.4,2.6],
 [1.3,1.4,1.5,1.7,2.0,2.3,2.7,3.1,3.5,3.9,4.5,5.0,4.5,4.1,3.9,3.7,3.5,3.3,3.1,3.0,2.9,2.8,2.7,2.7,2.8,3.0]
];
const fake8 = [
 [5.0,4.8,4.6,4.5,4.5,4.6,5.0,5.5,6.2,7.0,7.8,8.5,7.8,7.4,7.0,6.9,6.7,6.5,6.4,6.2,6.0,6.1,6.0,6.1,6.3,6.8],
 [4.8,4.6,4.4,4.3,4.4,4.6,5.0,5.6,6.2,6.8,7.6,8.3,7.6,7.2,6.8,6.5,6.3,6.2,6.0,5.9,5.8,5.7,5.6,5.7,5.8,6.0],
 [4.5,4.3,4.2,4.2,4.3,4.5,4.8,5.3,5.9,6.6,7.3,8.0,7.4,6.9,6.5,6.2,6.0,5.8,5.6,5.5,5.4,5.3,5.2,5.3,5.5,5.7],
 [4.2,4.0,3.9,3.9,4.0,4.3,4.6,5.1,5.6,6.2,6.9,7.6,7.0,6.5,6.0,5.8,5.6,5.4,5.2,5.1,5.0,4.9,4.9,5.0,5.1,5.2],
 [3.5,3.4,3.3,3.4,3.6,3.9,4.3,4.8,5.3,5.8,6.4,7.0,6.4,5.9,5.5,5.2,5.0,4.8,4.6,4.5,4.4,4.3,4.2,4.2,4.3,4.5],
 [2.8,2.7,2.8,2.9,3.1,3.4,3.8,4.2,4.6,5.0,5.5,6.0,5.5,5.1,4.7,4.5,4.3,4.1,4.0,3.9,3.8,3.7,3.6,3.6,3.7,3.8],
 [2.0,2.1,2.1,2.2,2.4,2.7,3.1,3.5,3.9,4.4,4.9,5.4,4.9,4.5,4.2,4.0,3.8,3.6,3.5,3.4,3.3,3.2,3.2,3.2,3.3,3.4],
 [0.5,0.5,0.5,0.6,0.7,0.8,1.2,1.7,2.3,2.8,3.6,4.3,3.6,3.1,2.8,2.6,2.5,2.3,2.2,2.1,2.0,2.0,2.0,1.9,2.0,2.0],
 [0.6,0.4,0.6,0.7,0.6,0.9,1.3,1.8,2.4,3.0,3.8,4.2,3.5,3.0,2.7,2.5,2.4,2.3,2.2,2.1,2.0,1.9,2.0,2.0,1.9,2.1]
];
const fake9 = [
 [8.0,7.0,6.8,6.5,6.8,7.4,8.2,9.0,9.8,10.4,10.0,10.8,10.6,10.2,9.9,9.8,9.7,9.6,9.5,9.2,9.0,9.1,9.3,9.5,10.2,9.8],
 [4.5,4.0,3.9,4.0,4.3,4.6,5.0,5.5,5.8,6.1,6.5,7.0,6.7,6.6,6.5,6.5,6.3,6.0,5.9,5.8,5.8,5.6,5.5,5.6,5.7,5.5],
 [4.3,3.8,3.6,3.7,3.9,4.2,4.6,5.0,5.4,5.7,6.1,6.7,6.3,6.0,5.8,5.6,5.4,5.3,5.1,5.0,5.0,4.9,4.8,4.9,5.0,5.2],
 [2.5,2.2,2.2,2.4,2.7,3.0,3.5,4.0,4.5,5.0,5.5,6.0,5.6,5.2,5.0,4.8,4.6,4.5,4.3,4.2,4.0,4.0,3.9,3.8,3.9,4.0],
 [2.0,1.8,1.7,1.8,2.0,2.3,2.8,3.2,3.7,4.1,4.6,5.0,4.7,4.4,4.2,4.0,3.9,3.7,3.6,3.5,3.4,3.3,3.3,3.2,3.3,3.4],
 [1.5,1.4,1.5,1.6,1.8,2.0,2.4,2.8,3.2,3.7,4.2,4.8,4.4,4.1,3.9,3.7,3.5,3.4,3.3,3.2,3.1,3.0,3.0,3.0,3.1,3.2],
 [1.0,0.9,1.0,1.2,1.4,1.7,2.1,2.5,2.9,3.4,3.9,4.5,4.0,3.6,3.3,3.1,2.9,2.7,2.5,2.4,2.3,2.2,2.1,2.0,2.0,1.9],
 [0.8,0.8,0.9,1.0,1.2,1.5,1.8,2.3,2.7,3.1,3.6,4.0,3.6,3.3,3.0,2.8,2.6,2.5,2.4,2.3,2.2,2.1,2.0,1.9,1.9,1.8],
 [2.2,1.9,1.8,1.9,2.1,2.4,2.9,3.4,3.9,4.4,4.9,5.2,4.8,4.5,4.3,4.2,4.0,3.9,3.8,3.7,3.6,3.6,3.5,3.5,3.6,3.7]
];

const realSets = [real0,real1,real2,real3,real4,real5,real6,real7,real8,real9];
const fakeSets = [fake0,fake1,fake2,fake3,fake4,fake5,fake6,fake7,fake8,fake9];

Chart.defaults.font.family = "'Liberation Sans', Arial, sans-serif";

const bgPlugin = {
  id: 'bg',
  beforeDraw(chart) {
    const a = chart.chartArea, ctx = chart.ctx;
    ctx.save();
    ctx.fillStyle = '#EAEAF2';
    ctx.fillRect(a.left, a.top, a.right - a.left, a.bottom - a.top);
    ctx.restore();
  }
};

const PW = 254, PH = 70;
const titles = [];

function makePanel(r, c) {
  const isReal = c === 0;
  const lines = isReal ? realSets[r] : fakeSets[r];
  const xs = isReal ? realX : fakeX;
  const panelTop = 21 + 83 * r;
  const plotLeft = isReal ? 25 : 330;
  const axisW = isReal ? 25 : 0;
  const padR = isReal ? 12 : 6;
  const bottomH = r === 9 ? 24 : 0;
  const cw = axisW + PW + padR;
  const ch = 2 + PH + bottomH;
  const canvas = document.createElement('canvas');
  canvas.width = cw; canvas.height = ch;
  canvas.style.cssText = 'position:absolute;left:' + (plotLeft - axisW) + 'px;top:' + (panelTop - 2) + 'px;width:' + cw + 'px;height:' + ch + 'px';
  document.body.appendChild(canvas);

  titles.push({text: (isReal ? 'Real' : 'Fake') + ', epoch ' + epochs[r], left: plotLeft, top: panelTop - 17});

  const gridOpts = {color: '#ffffff', lineWidth: 1, drawTicks: false};
  new Chart(canvas, {
    type: 'line',
    data: {
      datasets: lines.map(l => ({
        data: xs.map((x, i) => ({x: x, y: l[i]})),
        borderColor: 'rgba(128,128,128,0.5)',
        borderWidth: 1.5,
        pointRadius: 0,
        fill: false,
        tension: isReal ? 0.4 : 0,
        cubicInterpolationMode: isReal ? 'monotone' : 'default'
      }))
    },
    options: {
      responsive: false, animation: false, devicePixelRatio: 1, events: [],
      layout: {padding: {top: 2, left: 0, right: padR, bottom: 0}},
      plugins: {legend: {display: false}, title: {display: false}, tooltip: {enabled: false}},
      scales: {
        x: {
          type: 'linear', min: -4.95, max: 103.95,
          border: {display: false}, grid: gridOpts,
          ticks: {display: r === 9, color: '#262626', font: {size: 10}, padding: 5, autoSkip: false, maxRotation: 0, callback: v => String(v)},
          afterBuildTicks: s => { s.ticks = xTicks.map(v => ({value: v})); },
          afterFit: s => { s.height = bottomH; s.paddingLeft = 0; s.paddingRight = 0; }
        },
        y: {
          type: 'linear', min: -1.05, max: 14.54,
          border: {display: false}, grid: gridOpts,
          ticks: {display: isReal, color: '#262626', font: {size: 10}, padding: 6.5, callback: v => String(v)},
          afterBuildTicks: s => { s.ticks = yTicks.map(v => ({value: v})); },
          afterFit: s => { s.width = axisW; s.paddingTop = 0; s.paddingBottom = 0; }
        }
      }
    },
    plugins: [bgPlugin]
  });
}

for (let r = 0; r < 10; r++) { makePanel(r, 0); makePanel(r, 1); }
titles.forEach(t => {
  const d = document.createElement('div');
  d.className = 't';
  d.textContent = t.text;
  d.style.left = t.left + 'px';
  d.style.top = t.top + 'px';
  document.body.appendChild(d);
});
</script>
</body></html>
